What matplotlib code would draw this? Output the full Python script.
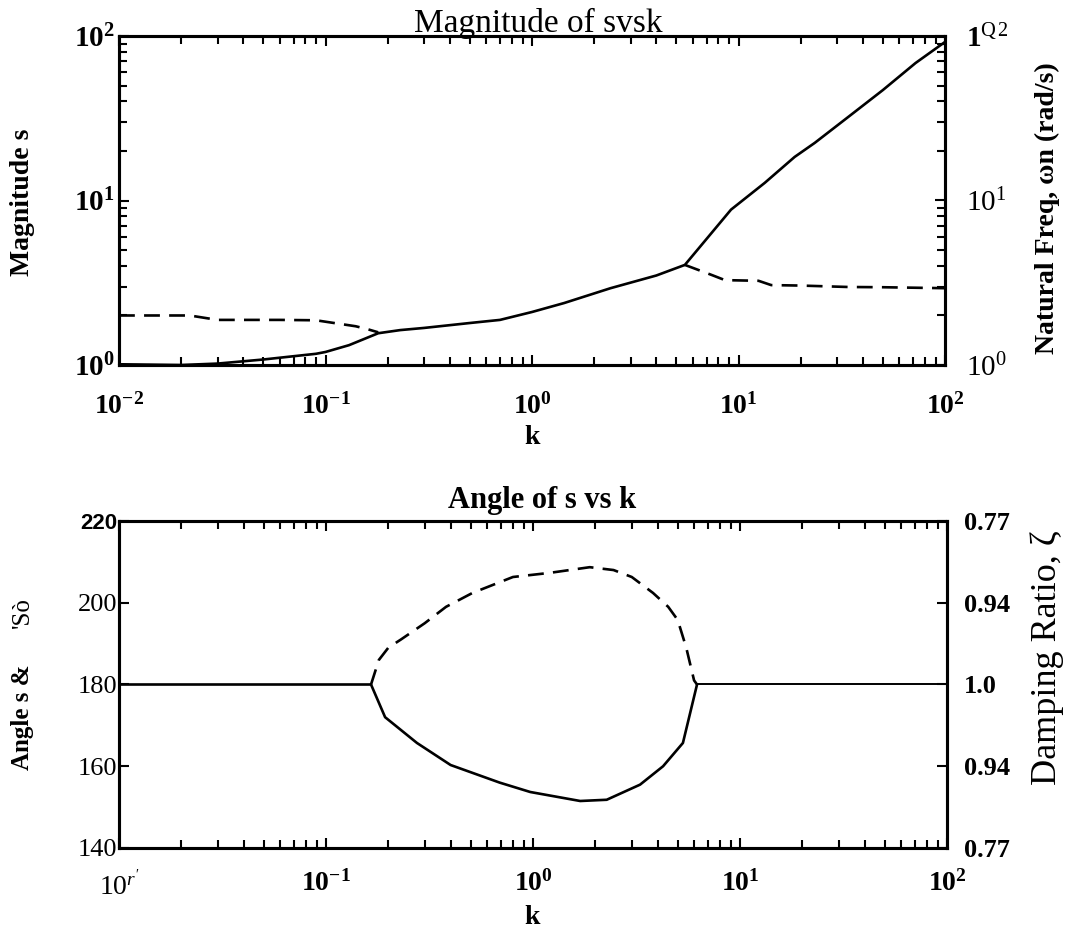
import numpy as np
import matplotlib
matplotlib.use("Agg")
import matplotlib.pyplot as plt
from matplotlib.ticker import FixedLocator, FixedFormatter, LogLocator, NullFormatter

plt.rcParams['font.family'] = ['Liberation Serif', 'DejaVu Serif']
plt.rcParams['mathtext.fontset'] = 'custom'
plt.rcParams['mathtext.rm'] = 'Liberation Serif'
plt.rcParams['mathtext.bf'] = 'Liberation Serif:bold'
plt.rcParams['mathtext.it'] = 'Liberation Serif:italic'

# top panel: magnitude of the closed-loop roots vs gain k
k_mag_solid = [0.01, 0.02, 0.03, 0.05, 0.09, 0.1, 0.13, 0.18, 0.23, 0.3, 0.5, 0.7,
               1.0, 1.43, 2.4, 4.0, 5.5, 9.2, 13.4, 18.7, 23.4, 34, 50, 72, 100]
mag_solid = [1.01, 1.0, 1.02, 1.08, 1.17, 1.2, 1.32, 1.56, 1.63, 1.68, 1.8, 1.88,
             2.1, 2.38, 2.93, 3.5, 4.06, 8.8, 12.8, 18.4, 22.4, 32.2, 46.9, 68.5, 92]

k_mag_dash_lo = [0.01, 0.022, 0.03, 0.06, 0.09, 0.11, 0.14, 0.16, 0.18]
mag_dash_lo = [2.0, 2.0, 1.88, 1.88, 1.87, 1.8, 1.72, 1.65, 1.58]

k_mag_dash_hi = [5.5, 7.4, 8.6, 12.5, 14.4, 20, 34, 50, 100]
mag_dash_hi = [4.06, 3.53, 3.28, 3.25, 3.06, 3.04, 2.98, 2.97, 2.93]

# bottom panel: angle of the roots vs gain k
k_ang_solid = [0.01, 0.165, 0.193, 0.275, 0.40, 0.69, 0.97, 1.69, 2.27, 3.29, 4.25, 5.3, 6.2]
ang_solid = [180, 180, 172, 165.7, 160.3, 156, 153.7, 151.5, 151.8, 155.5, 160, 165.7, 180]
k_ang_flat = [6.2, 100]
ang_flat = [180, 180]

k_ang_dash = [0.165, 0.18, 0.2, 0.23, 0.3, 0.38, 0.51, 0.8, 1.2, 1.88, 2.45, 3.0,
              3.8, 4.5, 5.0, 5.5, 6.0, 6.2]
ang_dash = [180, 186, 189, 191, 195, 199, 202.4, 206.3, 207.3, 208.7, 208, 206.3,
            202.4, 199, 195.8, 189, 181, 180]

xticks = [1e-2, 1e-1, 1e0, 1e1, 1e2]
top_xlabels = [r'$\mathbf{10^{-2}}$', r'$\mathbf{10^{-1}}$', r'$\mathbf{10^{0}}$',
               r'$\mathbf{10^{1}}$', r'$\mathbf{10^{2}}$']
bot_xlabels = [r"$\mathrm{10}^{\mathit{r'}}$", r'$\mathbf{10^{-1}}$', r'$\mathbf{10^{0}}$',
               r'$\mathbf{10^{1}}$', r'$\mathbf{10^{2}}$']
mag_ticks = [1, 10, 100]
mag_left_labels = [r'$\mathbf{10^{0}}$', r'$\mathbf{10^{1}}$', r'$\mathbf{10^{2}}$']
mag_right_labels = [r'$10^{0}$', r'$10^{1}$', r'$\mathbf{1}^{\mathrm{Q}\,2}$']
ang_ticks = [140, 160, 180, 200, 220]
ang_left_labels = ['140', '160', '180', '200', '220']
zeta_labels = ['0.77', '0.94', '1.0', '0.94', '0.77']

W, H = 1067, 936
fig = plt.figure(figsize=(W / 100, H / 100), dpi=100)
ax1 = fig.add_axes([119 / W, 1 - 365 / H, 826 / W, 329 / H])
ax3 = fig.add_axes([119 / W, 1 - 848 / H, 828 / W, 327 / H])

lw = 1.9
dash = (0, (6, 3.5))

ax1.plot(k_mag_solid, mag_solid, color='black', lw=lw)
ax1.plot(k_mag_dash_lo, mag_dash_lo, color='black', lw=lw, linestyle=dash)
ax1.plot(k_mag_dash_hi, mag_dash_hi, color='black', lw=lw, linestyle=dash)
ax1.set_xscale('log')
ax1.set_yscale('log')
ax1.set_xlim(1e-2, 1e2)
ax1.set_ylim(1, 100)

ax3.plot(k_ang_solid, ang_solid, color='black', lw=lw)
ax3.plot(k_ang_flat, ang_flat, color='black', lw=1.4)
ax3.plot(k_ang_dash, ang_dash, color='black', lw=lw, linestyle=dash)
ax3.set_xscale('log')
ax3.set_xlim(1e-2, 1e2)
ax3.set_ylim(140, 220)

for ax, labels, pad in [(ax1, top_xlabels, 20), (ax3, bot_xlabels, 16)]:
    ax.xaxis.set_major_locator(FixedLocator(xticks))
    ax.xaxis.set_major_formatter(FixedFormatter(labels))
    ax.xaxis.set_minor_locator(LogLocator(base=10, subs=np.arange(2, 10)))
    ax.xaxis.set_minor_formatter(NullFormatter())
    ax.tick_params(axis='x', which='both', direction='in', top=True, bottom=True,
                   labelsize=20, pad=pad, width=1.5)
    ax.tick_params(axis='y', which='both', direction='in', right=False, width=1.5)
    ax.tick_params(which='major', length=7)
    ax.tick_params(which='minor', length=6)
    for s in ax.spines.values():
        s.set_linewidth(2.2)

ax1.yaxis.set_major_locator(FixedLocator(mag_ticks))
ax1.yaxis.set_major_formatter(FixedFormatter(mag_left_labels))
ax1.yaxis.set_minor_locator(LogLocator(base=10, subs=np.arange(2, 10)))
ax1.yaxis.set_minor_formatter(NullFormatter())
ax1.tick_params(axis='y', labelsize=21, pad=3)

ax2 = ax1.twinx()
ax2.set_yscale('log')
ax2.set_ylim(1, 100)
ax2.yaxis.set_major_locator(FixedLocator(mag_ticks))
ax2.yaxis.set_major_formatter(FixedFormatter(mag_right_labels))
ax2.yaxis.set_minor_locator(LogLocator(base=10, subs=np.arange(2, 10)))
ax2.yaxis.set_minor_formatter(NullFormatter())
ax2.tick_params(axis='y', which='both', direction='in', labelsize=21, pad=15, width=1.5)
ax2.tick_params(which='major', length=7)
ax2.tick_params(which='minor', length=6)

ax3.yaxis.set_major_locator(FixedLocator(ang_ticks))
ax3.yaxis.set_major_formatter(FixedFormatter(ang_left_labels))
ax3.tick_params(axis='y', labelsize=19, pad=1)
for t in ax3.get_yticklabels():
    if t.get_text() == '220':
        t.set_family('Liberation Sans')
        t.set_fontweight('bold')
        t.set_fontsize(16)

ax4 = ax3.twinx()
ax4.set_ylim(140, 220)
ax4.yaxis.set_major_locator(FixedLocator(ang_ticks))
ax4.yaxis.set_major_formatter(FixedFormatter(zeta_labels))
ax4.tick_params(axis='y', direction='in', labelsize=19, pad=12, width=1.5, length=7)
for t in ax4.get_yticklabels():
    t.set_fontweight('bold')

for ax in (ax2, ax4):
    for s in ax.spines.values():
        s.set_linewidth(2.2)

# titles and axis labels
fig.text(538 / W, 1 - 32 / H, 'Magnitude of svsk', fontsize=24, ha='center', va='baseline')
fig.text(542 / W, 1 - 508 / H, 'Angle of s vs k', fontsize=22, fontweight='bold',
         ha='center', va='baseline')
fig.text(532 / W, 1 - 438 / H, 'k', fontsize=20, fontweight='bold', ha='center', va='center')
fig.text(532 / W, 1 - 918 / H, 'k', fontsize=20, fontweight='bold', ha='center', va='center')
fig.text(23 / W, 1 - 202 / H, 'Magnitude s', fontsize=20, fontweight='bold',
         rotation=90, ha='center', va='center')
fig.text(1047 / W, 1 - 208 / H, 'Natural Freq, ωn (rad/s)', fontsize=20, fontweight='bold',
         rotation=90, ha='center', va='center')
fig.text(1047 / W, 1 - 658 / H, 'Damping Ratio, ζ', fontsize=26,
         rotation=90, ha='center', va='center')
fig.text(23 / W, 1 - 717 / H, 'Angle s &', fontsize=18, fontweight='bold',
         rotation=90, ha='center', va='center')
fig.text(23 / W, 1 - 613 / H, "'Sò", fontsize=18,
         rotation=90, ha='center', va='center')

fig.savefig('out.png', dpi=100)
